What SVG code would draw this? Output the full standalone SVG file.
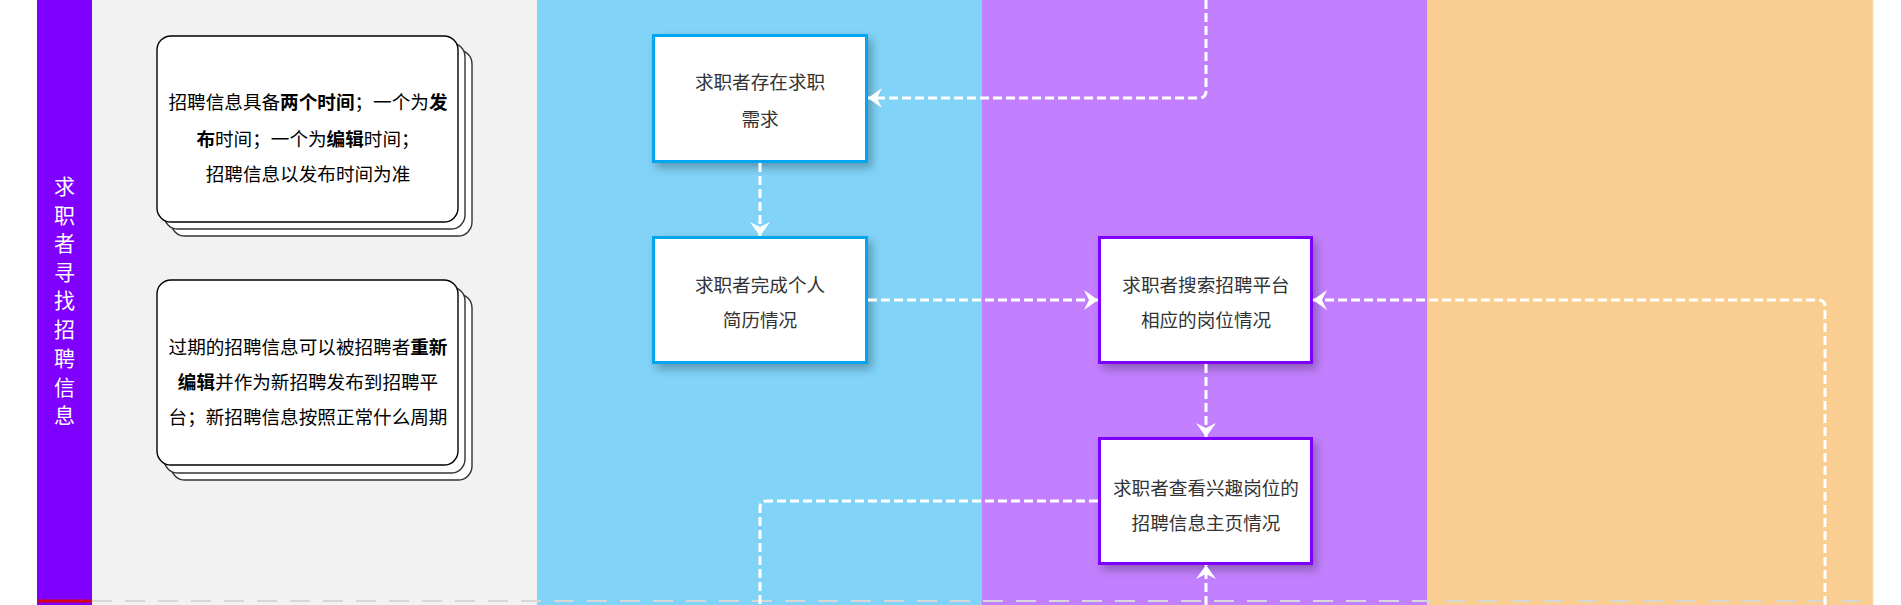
<svg xmlns="http://www.w3.org/2000/svg" width="1901" height="605" viewBox="0 0 1901 605">
<style>
.t{font-family:"Noto Sans CJK SC","Noto Sans",sans-serif;font-size:18.6px;text-anchor:middle;dominant-baseline:central}
.nt{fill:#333333}
.ct{fill:#000000}
.b{font-weight:bold}
.node-b{fill:#ffffff;stroke:#02a7f0;stroke-width:3}
.node-p{fill:#ffffff;stroke:#8000ff;stroke-width:3}
.card{fill:#ffffff;stroke:#000000;stroke-width:1.4}
.card-back{fill:#ffffff;stroke:#333333;stroke-width:1.4}
.conn{fill:none;stroke:#ffffff;stroke-width:3;stroke-dasharray:9 4}
.lbl{font-family:"Noto Sans CJK SC","Noto Sans",sans-serif;font-size:21px;fill:#ffffff;text-anchor:middle;dominant-baseline:central}
</style>
<defs>
<filter id="sh" x="-20%" y="-20%" width="150%" height="150%">
<feDropShadow dx="4" dy="5" stdDeviation="5" flood-color="#000000" flood-opacity="0.28"/>
</filter>
<marker id="arr" viewBox="0 0 14 20" refX="14" refY="10" markerWidth="14" markerHeight="20" markerUnits="userSpaceOnUse" orient="auto">
<path d="M0,0 L14,10 L0,20 L5,10 Z" fill="#ffffff"/>
</marker>
</defs>

<g id="lanes">
<rect x="37" y="0" width="55" height="605" fill="#8000ff"/>
<rect x="92" y="0" width="445" height="605" fill="#f2f2f2"/>
<rect x="537" y="0" width="445" height="605" fill="#81d3f8"/>
<rect x="982" y="0" width="445" height="605" fill="#c280ff"/>
<rect x="1427" y="0" width="446" height="605" fill="#facd91"/>
<line x1="1873" y1="0" x2="1873" y2="605" stroke="#fde3c0" stroke-width="1"/>
<line x1="92" y1="601" x2="1873" y2="601" stroke="#d7d7d7" stroke-width="2" stroke-dasharray="20 13"/>
<line x1="37" y1="601" x2="92" y2="601" stroke="#d9001b" stroke-width="3"/>
</g>

<g id="lane-title">
<text class="lbl" x="64.5" y="185">求</text>
<text class="lbl" x="64.5" y="213.5">职</text>
<text class="lbl" x="64.5" y="242">者</text>
<text class="lbl" x="64.5" y="270.5">寻</text>
<text class="lbl" x="64.5" y="299">找</text>
<text class="lbl" x="64.5" y="328">招</text>
<text class="lbl" x="64.5" y="357">聘</text>
<text class="lbl" x="64.5" y="386">信</text>
<text class="lbl" x="64.5" y="414">息</text>
</g>

<g id="card1">
<rect class="card-back" x="171" y="50" width="301" height="186" rx="14"/>
<rect class="card-back" x="164" y="43" width="301" height="186" rx="14"/>
<rect class="card" x="157" y="36" width="301" height="186" rx="14"/>
<text class="t ct" x="308" y="100">招聘信息具备<tspan class="b">两个时间</tspan>；一个为<tspan class="b">发</tspan></text>
<text class="t ct" x="308" y="137"><tspan class="b">布</tspan>时间；一个为<tspan class="b">编辑</tspan>时间；</text>
<text class="t ct" x="308" y="172">招聘信息以发布时间为准</text>
</g>

<g id="card2">
<rect class="card-back" x="171" y="294" width="301" height="186" rx="14"/>
<rect class="card-back" x="164" y="287" width="301" height="186" rx="14"/>
<rect class="card" x="157" y="280" width="301" height="185" rx="14"/>
<text class="t ct" x="308" y="345">过期的招聘信息可以被招聘者<tspan class="b">重新</tspan></text>
<text class="t ct" x="308" y="380"><tspan class="b">编辑</tspan>并作为新招聘发布到招聘平</text>
<text class="t ct" x="308" y="415">台；新招聘信息按照正常什么周期</text>
</g>

<g id="node1">
<rect class="node-b" x="653.5" y="35.5" width="213" height="126" filter="url(#sh)"/>
<text class="t nt" x="760" y="80">求职者存在求职</text>
<text class="t nt" x="760" y="117">需求</text>
</g>

<g id="node2">
<rect class="node-b" x="653.5" y="237.5" width="213" height="125" filter="url(#sh)"/>
<text class="t nt" x="760" y="283">求职者完成个人</text>
<text class="t nt" x="760" y="318">简历情况</text>
</g>

<g id="node3">
<rect class="node-p" x="1099.5" y="237.5" width="212" height="125" filter="url(#sh)"/>
<text class="t nt" x="1206" y="283">求职者搜索招聘平台</text>
<text class="t nt" x="1206" y="318">相应的岗位情况</text>
</g>

<g id="node4">
<rect class="node-p" x="1099.5" y="438.5" width="212" height="125" filter="url(#sh)"/>
<text class="t nt" x="1206" y="486">求职者查看兴趣岗位的</text>
<text class="t nt" x="1206" y="521">招聘信息主页情况</text>
</g>

<g id="connectors">
<path class="conn" d="M1206,0 L1206,91 Q1206,98 1199,98 L868,98" marker-end="url(#arr)"/>
<path class="conn" d="M760,163 L760,236" marker-end="url(#arr)"/>
<path class="conn" d="M868,300 L1098,300" marker-end="url(#arr)"/>
<path class="conn" d="M1825,605 L1825,307 Q1825,300 1818,300 L1313,300" marker-end="url(#arr)"/>
<path class="conn" d="M1206,364 L1206,437" marker-end="url(#arr)"/>
<path class="conn" d="M1206,605 L1206,565" marker-end="url(#arr)"/>
<path class="conn" d="M1098,501 L767,501 Q760,501 760,508 L760,605"/>
</g>
</svg>
